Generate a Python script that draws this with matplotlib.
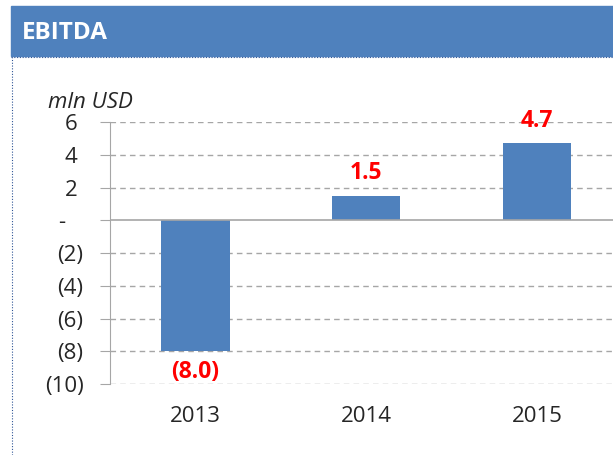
import matplotlib.pyplot as plt
from matplotlib.patches import Rectangle
from matplotlib.lines import Line2D

years = ['2013', '2014', '2015']
ebitda = [-8.0, 1.5, 4.7]
yticks = [6, 4, 2, 0, -2, -4, -6, -8, -10]

blue = '#4F81BD'
grey = '#A6A6A6'
plt.rcParams['font.family'] = ['Open Sans', 'DejaVu Sans']


def fmt(v):
    if v == 0:
        return '-   '
    if v < 0:
        return '(%d)' % -v
    return '%d ' % v


def fmt_label(v):
    if v < 0:
        return '(%.1f)' % -v
    return '%.1f' % v


def main():
    fig = plt.figure(figsize=(6.13, 4.55), dpi=100)

    # header band
    fig.patches.append(Rectangle((11 / 613, 1 - 56 / 455), 1, 50 / 455,
                                 transform=fig.transFigure, color=blue, zorder=0))
    fig.text(22 / 613, 1 - 33 / 455, 'EBITDA', color='white', fontsize=17.5,
             fontweight='bold', va='center', ha='left')
    # dotted frame
    fig.lines.append(Line2D([11.5 / 613, 11.5 / 613], [0, 1 - 57 / 455], transform=fig.transFigure,
                            color='#2F5597', lw=0.8, ls=(0, (1, 1.5))))
    fig.lines.append(Line2D([11 / 613, 1], [1 - 57 / 455, 1 - 57 / 455], transform=fig.transFigure,
                            color='#2F5597', lw=0.8, ls=(0, (1, 1.5))))

    ax = fig.add_axes([110 / 613, 71 / 455, 1 - 110 / 613, (384 - 122) / 455])
    x = range(len(years))
    ax.bar(x, ebitda, width=0.4, color=blue, zorder=3)

    for xi, v in zip(x, ebitda):
        off = 16 if v >= 0 else -15
        ax.annotate(fmt_label(v), (xi, v), xytext=(0, off), textcoords='offset points',
                    ha='center', va='center', color='#FF0000', fontsize=16.5, fontweight='bold')

    ax.set_xlim(-0.5, 2 + (613 - 537) / 171)
    ax.set_ylim(-10, 6)
    ax.set_yticks(yticks)
    ax.set_yticklabels([fmt(v) for v in yticks], fontsize=16, color='#262626')
    ax.set_xticks(list(x))
    ax.set_xticklabels(years, fontsize=16, color='#262626')
    ax.tick_params(axis='x', length=0, pad=16)
    ax.tick_params(axis='y', length=7, color=grey, pad=12)

    for v in yticks:
        if v != 0:
            ax.axhline(v, color=grey, lw=1, ls=(0, (4, 3)), zorder=1)
    ax.axhline(0, color=grey, lw=1.2, zorder=4)

    for s in ['top', 'right', 'bottom']:
        ax.spines[s].set_visible(False)
    ax.spines['left'].set_color(grey)

    fig.text(48 / 613, 1 - 102 / 455, 'mln USD', fontsize=16, style='italic',
             color='#262626', ha='left', va='center')

    fig.savefig('out.png', dpi=100)


if __name__ == '__main__':
    main()
